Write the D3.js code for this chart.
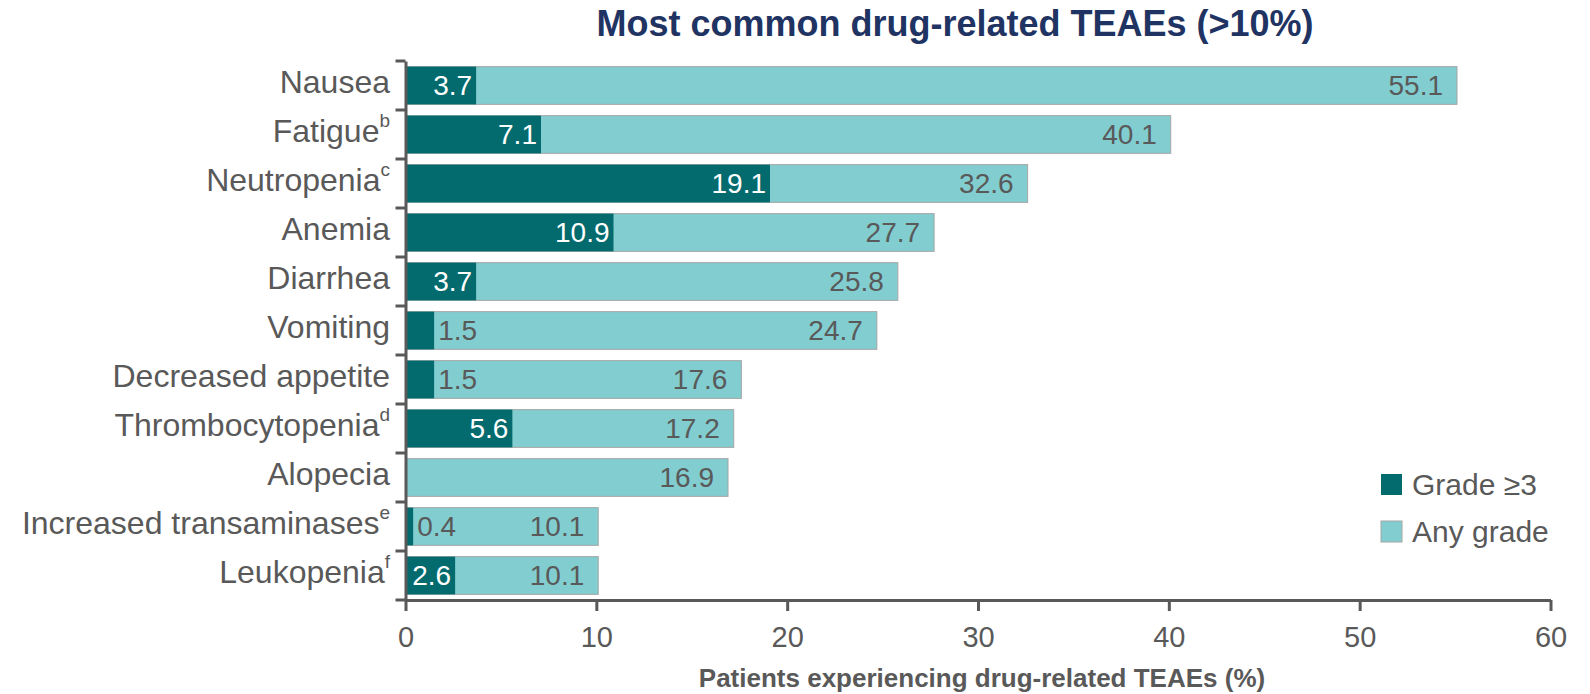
<!DOCTYPE html>
<html>
<head>
<meta charset="utf-8">
<script src="https://cdn.jsdelivr.net/npm/d3@7"></script>
<style>
  html, body { margin: 0; padding: 0; background: #fff; }
  svg { display: block; font-family: "Liberation Sans", Arial, sans-serif; }
</style>
</head>
<body>
<svg id="chart" width="1590" height="694"></svg>
<script>
// Adverse events, in display order (top to bottom)
const categories = ["Nausea", "Fatigue", "Neutropenia", "Anemia", "Diarrhea", "Vomiting",
  "Decreased appetite", "Thrombocytopenia", "Alopecia", "Increased transaminases", "Leukopenia"];
const footnotes = ["", "b", "c", "", "", "", "", "d", "", "e", "f"];
// Percent of patients, any grade and grade ≥3
const anyGrade = [55.1, 40.1, 32.6, 27.7, 25.8, 24.7, 17.6, 17.2, 16.9, 10.1, 10.1];
const grade3 = [3.7, 7.1, 19.1, 10.9, 3.7, 1.5, 1.5, 5.6, 0, 0.4, 2.6];
const xTicks = [0, 10, 20, 30, 40, 50, 60];
const seriesNames = ["Grade ≥3", "Any grade"];

const colors = { dark: "#036b6e", light: "#82cdd0", text: "#595959", title: "#1f3462" };

const svg = d3.select("#chart");
const plotLeft = 405.5, plotRight = 1550.5, plotTop = 61, plotBottom = 600;

const rows = categories.map((c, i) => ({ cat: c, note: footnotes[i], any: anyGrade[i], g3: grade3[i] }));

const x = d3.scaleLinear().domain([0, 60]).range([plotLeft, plotRight]);
const y = d3.scaleBand().domain(categories).range([plotTop, plotBottom])
  .paddingInner(0.23).paddingOuter(0.115);

// Title
svg.append("text")
  .attr("x", 955).attr("y", 36)
  .attr("text-anchor", "middle")
  .attr("fill", colors.title)
  .attr("font-weight", "bold")
  .attr("font-size", 36)
  .text("Most common drug-related TEAEs (>10%)");

// Any-grade bars
svg.append("g").selectAll("rect").data(rows).join("rect")
  .attr("x", x(0))
  .attr("y", d => y(d.cat))
  .attr("width", d => x(d.any) - x(0))
  .attr("height", y.bandwidth())
  .attr("fill", colors.light)
  .attr("stroke", "#a6a6a6")
  .attr("stroke-width", 1);

// Grade ≥3 bars
svg.append("g").selectAll("rect").data(rows.filter(d => d.g3 > 0)).join("rect")
  .attr("x", x(0))
  .attr("y", d => y(d.cat))
  .attr("width", d => x(d.g3) - x(0))
  .attr("height", y.bandwidth())
  .attr("fill", colors.dark);

const labelSize = 28;

// Any-grade value labels, right-aligned inside the bar end
svg.append("g").selectAll("text").data(rows).join("text")
  .attr("x", d => x(d.any) - 14)
  .attr("y", d => y(d.cat) + y.bandwidth() / 2)
  .attr("dy", "0.34em")
  .attr("text-anchor", "end")
  .attr("fill", colors.text)
  .attr("font-size", labelSize)
  .text(d => d.any.toFixed(1));

// Grade ≥3 value labels: inside in white when there is room, else just past the bar in grey
const wide = d => d.g3 >= 2.5;
svg.append("g").selectAll("text").data(rows.filter(d => d.g3 > 0)).join("text")
  .attr("x", d => wide(d) ? x(d.g3) - 4 : x(d.g3) + 4)
  .attr("y", d => y(d.cat) + y.bandwidth() / 2)
  .attr("dy", "0.34em")
  .attr("text-anchor", d => wide(d) ? "end" : "start")
  .attr("fill", d => wide(d) ? "#ffffff" : colors.text)
  .attr("font-size", labelSize)
  .text(d => d.g3.toFixed(1));

// Y axis line
const yAxis = svg.append("g").attr("transform", `translate(${plotLeft},0)`)
  .call(d3.axisLeft(y).tickSize(0).tickPadding(0).tickFormat(() => ""));
yAxis.select(".domain").attr("stroke", colors.text).attr("stroke-width", 3);

// Category labels with footnote superscripts
const labels = svg.append("g").selectAll("text").data(rows).join("text")
  .attr("x", 390)
  .attr("y", d => y(d.cat) + y.bandwidth() / 2)
  .attr("dy", "0.24em")
  .attr("text-anchor", "end")
  .attr("fill", colors.text)
  .attr("font-size", 32);
labels.append("tspan").text(d => d.cat);
labels.filter(d => d.note).append("tspan")
  .attr("font-size", 19)
  .attr("dy", "-0.8em")
  .text(d => d.note);

// Tick marks at band boundaries on the category axis
const boundaries = categories.map(c => y(c) - y.step() * y.paddingInner() / 2)
  .concat([plotBottom]);
svg.append("g").selectAll("line").data(boundaries).join("line")
  .attr("x1", plotLeft - 10).attr("x2", plotLeft)
  .attr("y1", d => d).attr("y2", d => d)
  .attr("stroke", colors.text).attr("stroke-width", 3);

// X axis
const xAxis = svg.append("g").attr("transform", `translate(0,${plotBottom})`)
  .call(d3.axisBottom(x).tickValues(xTicks).tickSize(11).tickPadding(15).tickSizeOuter(0));
xAxis.select(".domain").attr("stroke", colors.text).attr("stroke-width", 3);
xAxis.selectAll(".tick line").attr("stroke", colors.text).attr("stroke-width", 3);
xAxis.selectAll(".tick text")
  .attr("fill", colors.text)
  .attr("font-size", 29)
  .attr("font-family", "Liberation Sans, Arial, sans-serif");

svg.append("text")
  .attr("x", 982).attr("y", 687)
  .attr("text-anchor", "middle")
  .attr("fill", colors.text)
  .attr("font-weight", "bold")
  .attr("font-size", 26)
  .text("Patients experiencing drug-related TEAEs (%)");

// Legend
const legend = svg.append("g").attr("transform", "translate(1381,474)");
const legendItems = legend.selectAll("g").data(seriesNames).join("g")
  .attr("transform", (d, i) => `translate(0,${i * 47})`);
legendItems.append("rect")
  .attr("width", 21).attr("height", 21)
  .attr("fill", (d, i) => i === 0 ? colors.dark : colors.light)
  .attr("stroke", (d, i) => i === 0 ? "none" : "#a6a6a6");
legendItems.append("text")
  .attr("x", 31).attr("y", 10.5)
  .attr("dy", "0.36em")
  .attr("fill", colors.text)
  .attr("font-size", 30)
  .text(d => d);
</script>
</body>
</html>
